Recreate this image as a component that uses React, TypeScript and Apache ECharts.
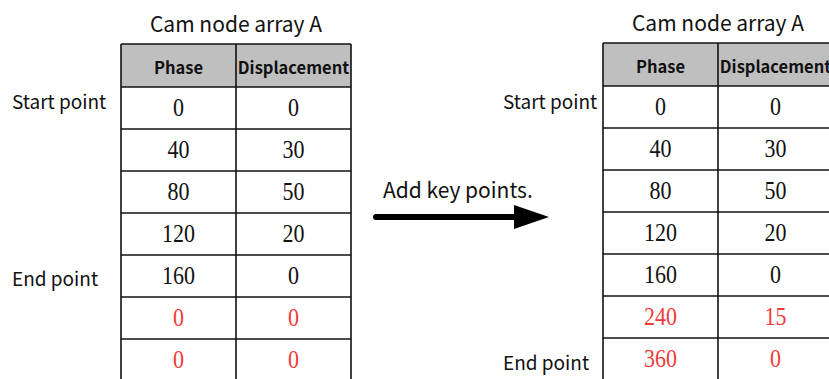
import React, { useEffect, useRef } from "react";
import * as echarts from "echarts";

const title = "Cam node array A";
const headers = ["Phase", "Displacement"];
const leftPhase = [0, 40, 80, 120, 160, 0, 0];
const leftDisp = [0, 30, 50, 20, 0, 0, 0];
const leftRed = [false, false, false, false, false, true, true];
const rightPhase = [0, 40, 80, 120, 160, 240, 360];
const rightDisp = [0, 30, 50, 20, 0, 15, 0];
const rightRed = [false, false, false, false, false, true, true];
const arrowLabel = "Add key points.";

const SANS = "'Noto Sans CJK SC', 'Noto Sans', sans-serif";
const SERIF = "'Liberation Serif', 'DejaVu Serif', serif";
const RED = "#f23a3a";

function table(x0: number, y0: number, phase: number[], disp: number[], red: boolean[], rowH: number) {
  const colW = [115, 115];
  const headH = 43;
  const els: any[] = [];
  const totalW = colW[0] + colW[1];
  els.push({
    type: "rect",
    shape: { x: x0, y: y0, width: totalW, height: headH },
    style: { fill: "#bfbfbf" },
  });
  els.push({
    type: "text",
    x: x0 + totalW / 2,
    y: y0 - 21,
    style: { text: title, font: `21px ${SANS}`, fill: "#111", align: "center", verticalAlign: "middle" },
  });
  headers.forEach((h, i) => {
    const cx = x0 + (i === 0 ? colW[0] / 2 : colW[0] + colW[1] / 2);
    els.push({
      type: "text",
      x: cx,
      y: y0 + headH / 2 + 1,
      style: { text: h, font: `bold 16.5px ${SANS}`, fill: "#111", align: "center", verticalAlign: "middle" },
    });
  });
  const n = phase.length;
  const bottom = y0 + headH + rowH * n;
  phase.forEach((p, r) => {
    const cy = y0 + headH + rowH * r + rowH / 2;
    const col = red[r] ? RED : "#111";
    els.push({
      type: "text",
      x: x0 + colW[0] / 2,
      y: cy,
      scaleY: 1.12,
      style: { text: String(p), font: `22px ${SERIF}`, fill: col, align: "center", verticalAlign: "middle" },
    });
    els.push({
      type: "text",
      x: x0 + colW[0] + colW[1] / 2,
      y: cy,
      scaleY: 1.12,
      style: { text: String(disp[r]), font: `22px ${SERIF}`, fill: col, align: "center", verticalAlign: "middle" },
    });
  });
  for (let r = 0; r <= n; r++) {
    const y = r === 0 ? y0 : y0 + headH + rowH * (r - 1);
    els.push({
      type: "line",
      shape: { x1: x0, y1: y, x2: x0 + totalW, y2: y },
      style: { stroke: "#111", lineWidth: 1.6 },
    });
  }
  const xs = [x0, x0 + colW[0], x0 + totalW];
  xs.forEach((x) => {
    els.push({
      type: "line",
      shape: { x1: x, y1: y0, x2: x, y2: bottom },
      style: { stroke: "#111", lineWidth: 1.6 },
    });
  });
  return els;
}

export default function App() {
  const ref = useRef<HTMLDivElement>(null);
  useEffect(() => {
    if (!ref.current) return;
    const chart = echarts.init(ref.current, undefined, { renderer: "svg" });
    const els: any[] = [
      ...table(121, 44, leftPhase, leftDisp, leftRed, 42),
      ...table(603, 43, rightPhase, rightDisp, rightRed, 42),
      { type: "text", x: 12, y: 100, style: { text: "Start point", font: `19px ${SANS}`, fill: "#111", verticalAlign: "middle" } },
      { type: "text", x: 12, y: 277, style: { text: "End point", font: `19px ${SANS}`, fill: "#111", verticalAlign: "middle" } },
      { type: "text", x: 503, y: 100, style: { text: "Start point", font: `19px ${SANS}`, fill: "#111", verticalAlign: "middle" } },
      { type: "text", x: 503, y: 361, style: { text: "End point", font: `19px ${SANS}`, fill: "#111", verticalAlign: "middle" } },
      { type: "text", x: 383, y: 189, style: { text: arrowLabel, font: `21px ${SANS}`, fill: "#111", verticalAlign: "middle" } },
      { type: "line", shape: { x1: 376, y1: 217, x2: 520, y2: 217 }, style: { stroke: "#000", lineWidth: 6, lineCap: "round" } },
      { type: "polygon", shape: { points: [[514, 205], [549, 217], [514, 229]] }, style: { fill: "#000" } },
    ];
    chart.setOption({ animation: false, graphic: { elements: els } });
    return () => chart.dispose();
  }, []);
  return <div ref={ref} style={{ position: "fixed", left: 0, top: 0, width: 829, height: 379, background: "#fff" }} />;
}
